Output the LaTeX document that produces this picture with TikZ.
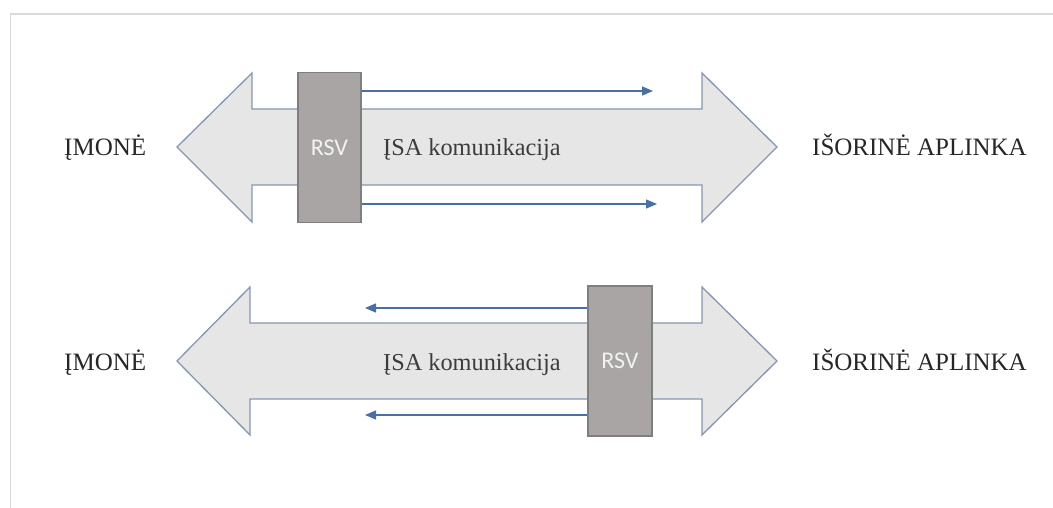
\documentclass[tikz,border=0pt]{standalone}
\usepackage{fontspec}
\setmainfont{Liberation Serif}
\newfontfamily\boxfont{Carlito}
\usetikzlibrary{arrows.meta}
\definecolor{framegray}{HTML}{D9D9D9}
\definecolor{arrowfill}{HTML}{E7E6E6}
\definecolor{arrowedge}{HTML}{8496B0}
\definecolor{boxfill}{HTML}{A9A5A5}
\definecolor{boxedge}{HTML}{7F7F7F}
\definecolor{flow}{HTML}{4A6FA5}
\definecolor{ink}{HTML}{262626}
\begin{document}
\begin{tikzpicture}[x=1pt,y=-1pt,
  bigarrow/.style={fill=arrowfill, draw=arrowedge, line width=1.3pt, line join=miter},
  rsvbox/.style={fill=boxfill, draw=boxedge, line width=1.3pt, minimum width=63pt,
    minimum height=150pt, inner sep=0pt, text=white!95!black,
    font=\boxfont\fontsize{24}{28}\selectfont},
  sidelabel/.style={font=\fontsize{25}{30}\selectfont, text=ink, inner sep=0pt, anchor=base west},
  midlabel/.style={font=\fontsize{24.3}{29}\selectfont, text=ink!90, inner sep=0pt, anchor=base west},
  flowarrow/.style={draw=flow, line width=1.3pt, -{Triangle[length=11pt,width=9pt]}}]
\useasboundingbox (0,0) rectangle (1053,508);

% frame edges
\draw[framegray, line width=1.5pt] (1053,14) -- (10.5,14) -- (10.5,508);

% upper double arrow: RSV on the company side, flow outwards
\draw[bigarrow] (177,147) -- (252,73) -- (252,109) -- (702,109) -- (702,73) -- (777,147)
  -- (702,222) -- (702,185) -- (252,185) -- (252,222) -- cycle;
\node[rsvbox] (rsvA) at (329.5,147.5) {RSV};
\node[sidelabel] (imA) at (64,156) {ĮMONĖ};
\node[midlabel] (isaA) at (383,156) {ĮSA komunikacija};
\node[sidelabel] (extA) at (812,156) {IŠORINĖ APLINKA};
\coordinate (outA1) at (653,91);
\coordinate (outA2) at (657,204);
\draw[flowarrow] (rsvA.east |- outA1) -- (outA1);
\draw[flowarrow] (rsvA.east |- outA2) -- (outA2);

% lower double arrow: RSV on the environment side, flow inwards
\draw[bigarrow] (177,361) -- (250,287) -- (250,323) -- (702,323) -- (702,287) -- (777,361)
  -- (702,435) -- (702,399) -- (250,399) -- (250,435) -- cycle;
\node[rsvbox, minimum width=64pt] (rsvB) at (620,361) {RSV};
\node[sidelabel] (imB) at (64,370) {ĮMONĖ};
\node[midlabel] (isaB) at (383,370) {ĮSA komunikacija};
\node[sidelabel] (extB) at (812,370) {IŠORINĖ APLINKA};
\coordinate (inB1) at (365,308);
\coordinate (inB2) at (365,415);
\draw[flowarrow] (rsvB.west |- inB1) -- (inB1);
\draw[flowarrow] (rsvB.west |- inB2) -- (inB2);
\end{tikzpicture}
\end{document}
